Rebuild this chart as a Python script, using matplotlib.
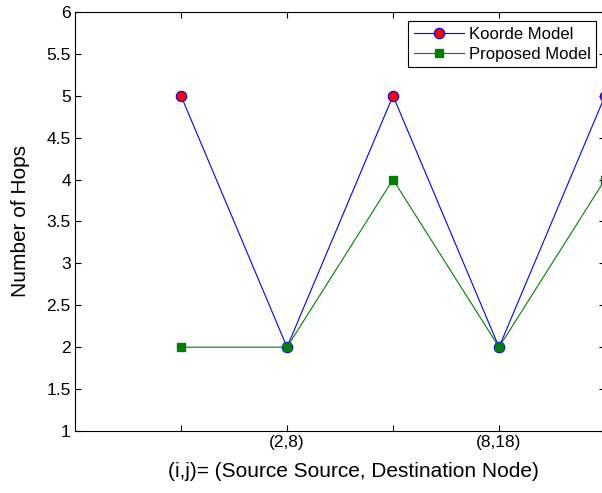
import matplotlib
matplotlib.use("Agg")
import matplotlib.pyplot as plt

plt.rcParams["font.family"] = ["Liberation Sans", "DejaVu Sans"]

# Data
x = [1, 2, 3, 4, 5]
koorde = [5, 2, 5, 2, 5]
proposed = [2, 2, 4, 2, 4]
xtick_labels = ["", "(2,8)", "", "(8,18)", ""]
ytick_labels = ["1", "1.5", "2", "2.5", "3", "3.5", "4", "4.5", "5", "5.5", "6"]

fig = plt.figure(figsize=(6.02, 4.93), dpi=100)
# right spine sits just past the image edge, as in the original crop
ax = fig.add_axes([0.1246, 0.1258, 0.8804, 0.8499])

ax.plot(x, koorde, color="blue", lw=0.8, marker="o", ms=7.5,
        mfc="red", mec="blue", mew=0.8, label="Koorde Model")
ax.plot(x, proposed, color="green", lw=0.8, marker="s", ms=6,
        mfc="green", mec="green", label="Proposed Model")

ax.set_xlim(0, 4.98)
ax.set_ylim(1, 6)
ax.set_xticks(x)
ax.set_xticklabels(xtick_labels)
ax.set_yticks([1, 1.5, 2, 2.5, 3, 3.5, 4, 4.5, 5, 5.5, 6])
ax.set_yticklabels(ytick_labels)
ax.tick_params(direction="in", top=True, right=True, labelsize=12.5, length=4, pad=3)

ax.set_xlabel("(i,j)= (Source Source, Destination Node)", fontsize=15)
ax.xaxis.set_label_coords(0.525, -0.073)
ax.set_ylabel("Number of Hops", fontsize=15, labelpad=12)

leg = ax.legend(loc="upper right", fontsize=12, fancybox=False, framealpha=1,
                edgecolor="black", bbox_to_anchor=(0.9835, 0.979),
                borderaxespad=0, handlelength=3.0,
                handletextpad=0.3, labelspacing=0.3, borderpad=0.35)
leg.get_frame().set_linewidth(0.8)

plt.savefig("out.png", dpi=100)
